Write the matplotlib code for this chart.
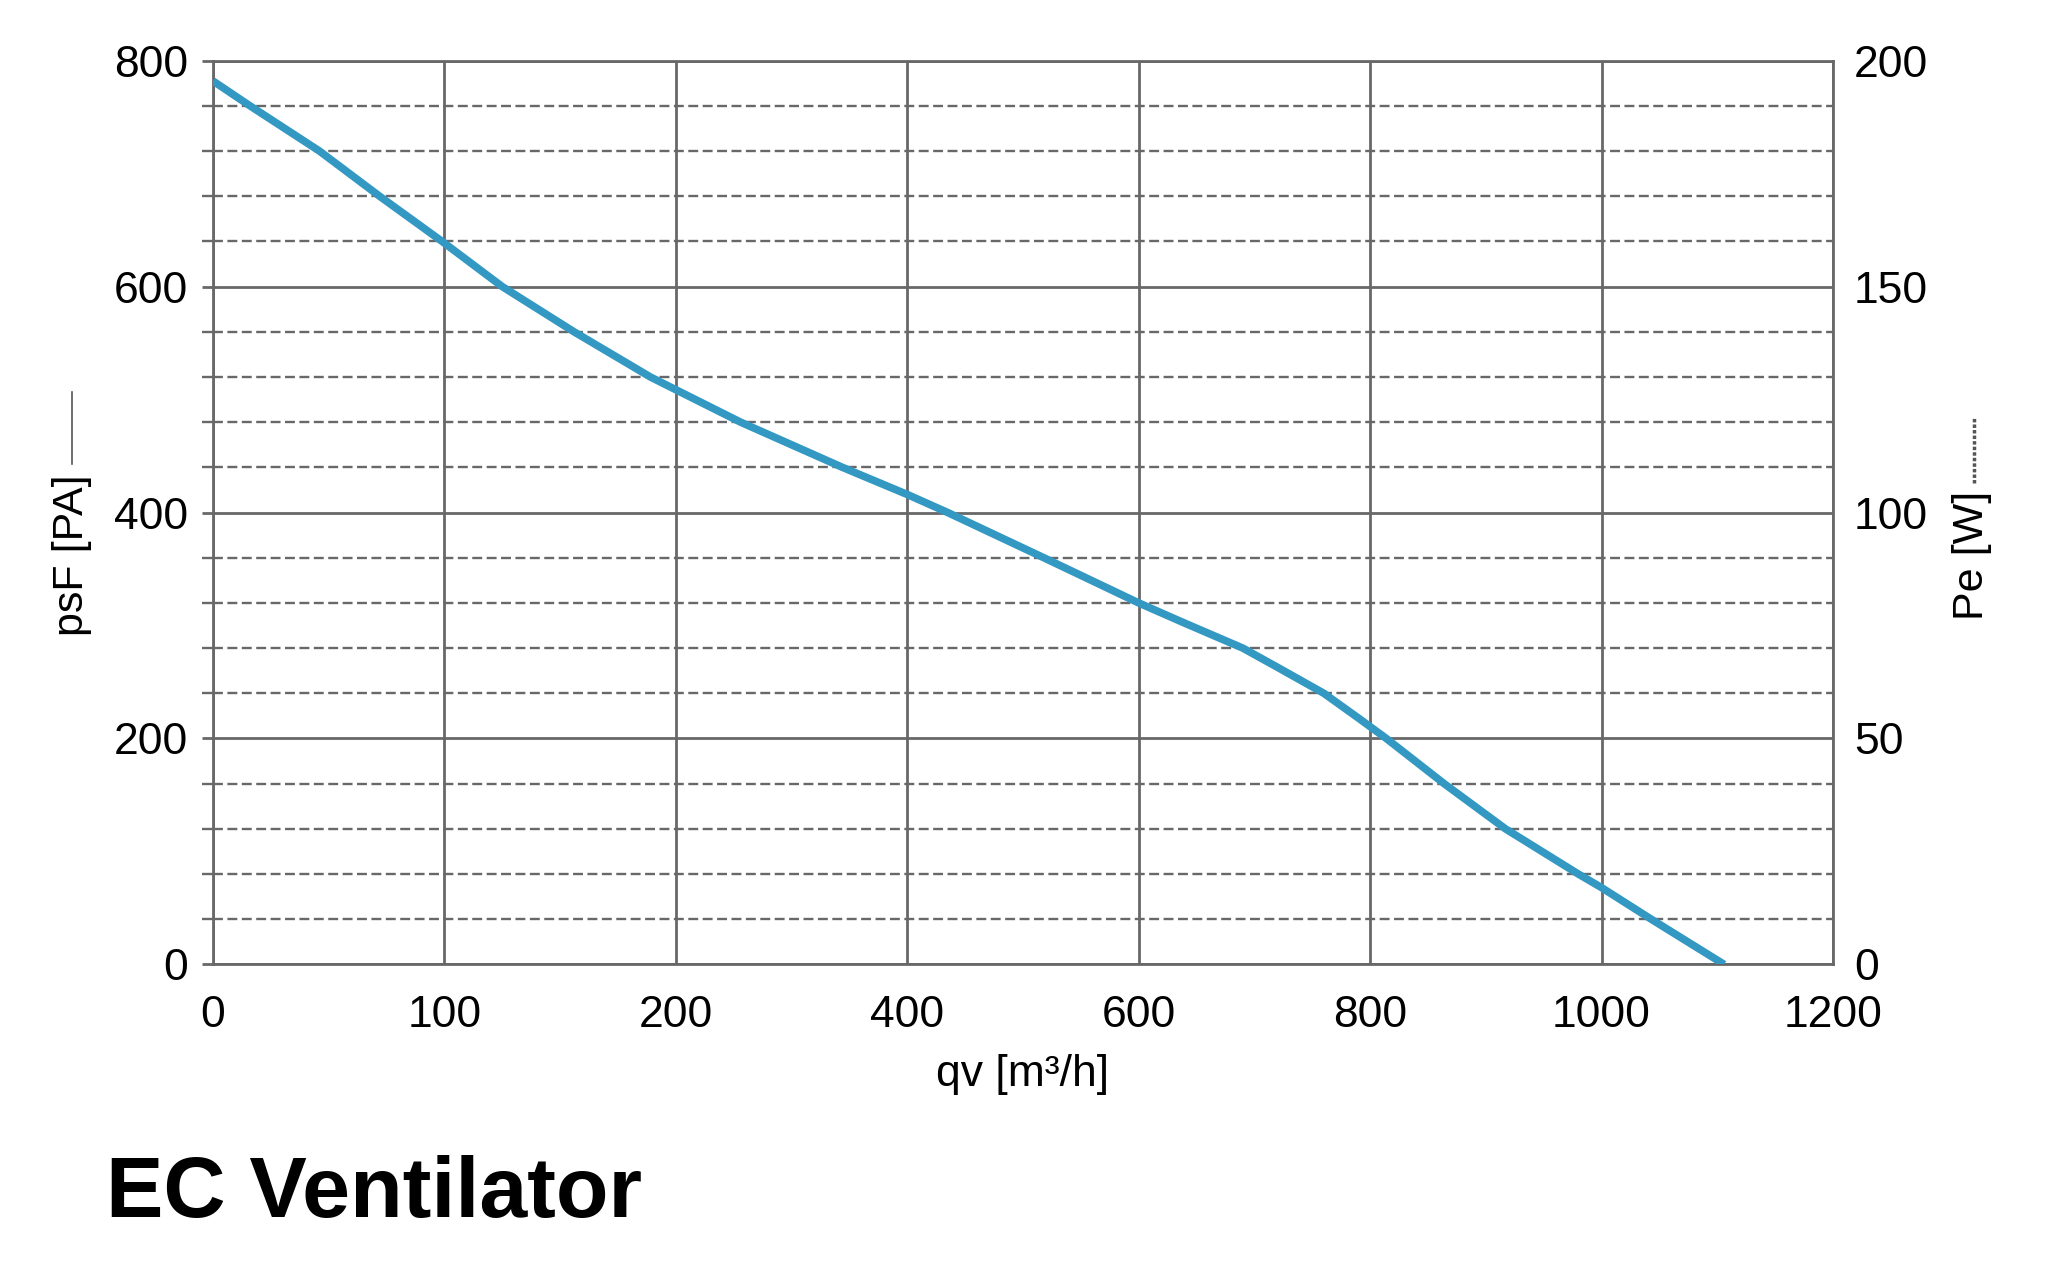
import numpy as np
import matplotlib
matplotlib.use("Agg")
import matplotlib.pyplot as plt
from matplotlib.lines import Line2D

plt.rcParams['font.family'] = ['Liberation Sans', 'DejaVu Sans']

# x axis labels (non-linear spacing on the original chart)
qv_ticks = [0, 100, 200, 400, 600, 800, 1000, 1200]
psf_ticks = [0, 200, 400, 600, 800]
pe_ticks = [0, 50, 100, 150, 200]

# fan curve
qv = [0, 16, 46, 72, 99, 125, 156, 189, 256, 344, 400, 435, 518,
      600, 640, 690, 720, 760, 790, 814, 864, 917, 980, 1000, 1043, 1106]
psf = [782, 760, 720, 680, 640, 600, 560, 520, 480, 440, 416, 400, 360,
       320, 302, 280, 263, 240, 218, 200, 160, 120, 80, 68, 40, 0]

grid_col = '#686868'

# map qv values onto the evenly spaced grid positions
pos_ticks = np.arange(len(qv_ticks))
x_pos = np.interp(qv, qv_ticks, pos_ticks)

fig = plt.figure(figsize=(20.48, 12.64), dpi=100)
ax = fig.add_axes([0.104, 0.237, 0.791, 0.715])

ax.plot(x_pos, psf, color='#3399c2', lw=5.5, solid_capstyle='butt',
        solid_joinstyle='round', zorder=5)

ax.set_xlim(0, len(qv_ticks) - 1)
ax.set_ylim(0, 800)
ax.set_xticks(pos_ticks)
ax.set_xticklabels([str(v) for v in qv_ticks])
ax.set_yticks(psf_ticks)
ax.set_yticks(np.arange(0, 801, 40), minor=True)

ax.grid(True, which='major', color=grid_col, lw=2.0)
ax.grid(True, which='minor', axis='y', color=grid_col, lw=1.7, linestyle=(0, (4.2, 1.9)))
ax.set_axisbelow(True)
for s in ax.spines.values():
    s.set_color(grid_col)
    s.set_linewidth(2.0)

ax.tick_params(axis='x', length=0, pad=22, labelsize=32)
ax.tick_params(axis='y', which='major', length=8, width=2.0, color=grid_col, pad=10, labelsize=32)
ax.tick_params(axis='y', which='minor', length=8, width=1.7, color=grid_col)

ax2 = ax.twinx()
ax2.set_ylim(0, 200)
ax2.set_yticks(pe_ticks)
ax2.tick_params(axis='y', length=0, pad=15, labelsize=32)
for s in ax2.spines.values():
    s.set_visible(False)

ax.set_xlabel('qv [m³/h]', fontsize=32, labelpad=13)

# axis titles with their line-style keys
fig.text(0.035, 0.561, 'psF [PA]', rotation=90, ha='center', va='center', fontsize=31)
fig.add_artist(Line2D([0.035, 0.035], [0.633, 0.690], transform=fig.transFigure,
                      color='#555555', lw=1.2))
fig.text(0.963, 0.561, 'Pe [W]', rotation=90, ha='center', va='center', fontsize=31)
fig.add_artist(Line2D([0.964, 0.964], [0.618, 0.669], transform=fig.transFigure,
                      color='#555555', lw=2.5, linestyle=(0, (1, 0.6))))

fig.text(0.052, 0.037, 'EC Ventilator', fontsize=62, fontweight='bold', va='baseline')

fig.savefig('out.png', dpi=100, facecolor='white')
